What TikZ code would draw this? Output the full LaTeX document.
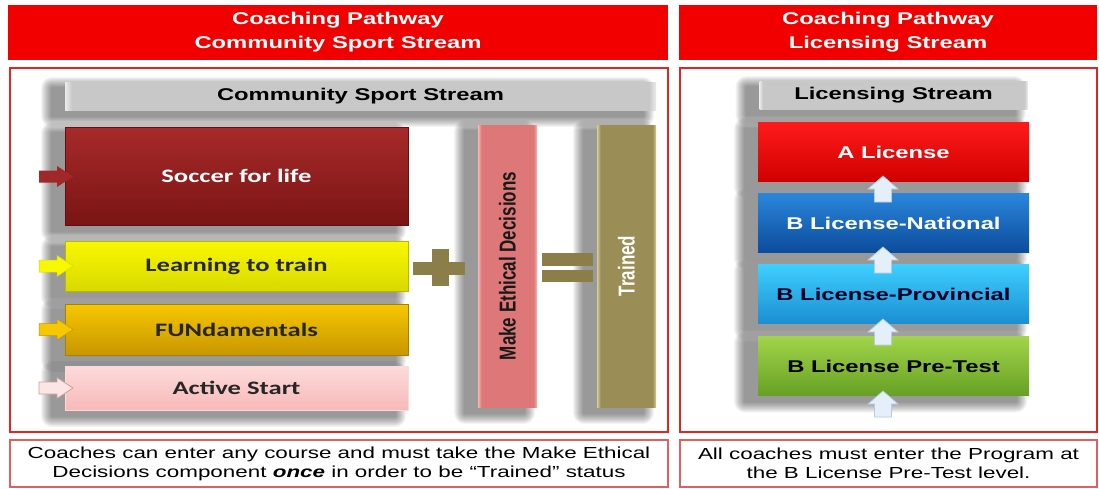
\documentclass[tikz,border=0pt]{standalone}
\usepackage{fontspec}
\setmainfont{Liberation Sans}
\newfontfamily\wide[FakeStretch=1.4]{Liberation Sans}
\newfontfamily\calw[FakeStretch=1.4]{Carlito}
\newfontfamily\narr[FakeStretch=0.74]{Liberation Sans}
\definecolor{hdrred}{HTML}{F20000}
\definecolor{framered}{HTML}{E02525}
\definecolor{notered}{HTML}{E06060}
\definecolor{barGray}{HTML}{C8C8C8}
\definecolor{socTop}{HTML}{A82A2A}
\definecolor{socBot}{HTML}{7A1414}
\definecolor{ltTop}{HTML}{F8F800}
\definecolor{ltBot}{HTML}{D9D900}
\definecolor{fnTop}{HTML}{F6C800}
\definecolor{fnBot}{HTML}{C89600}
\definecolor{asTop}{HTML}{FDDADA}
\definecolor{asBot}{HTML}{F7B9B9}
\definecolor{ethMid}{HTML}{DE7878}
\definecolor{ethEdge}{HTML}{F6B4B4}
\definecolor{trMid}{HTML}{9A8D55}
\definecolor{trEdge}{HTML}{D6CB9A}
\definecolor{olive}{HTML}{8C7E48}
\definecolor{aTop}{HTML}{FF1A1A}
\definecolor{aBot}{HTML}{D00000}
\definecolor{nTop}{HTML}{2A86DC}
\definecolor{nBot}{HTML}{0C4C9C}
\definecolor{pTop}{HTML}{3ED0FF}
\definecolor{pBot}{HTML}{1A8ED2}
\definecolor{gTop}{HTML}{A2D44A}
\definecolor{gBot}{HTML}{66A024}
\definecolor{upFill}{HTML}{E4EFFA}
\definecolor{upLine}{HTML}{B4CBE2}
\pgfdeclarehorizontalshading{ethsh}{100bp}{color(0bp)=(ethEdge); color(25bp)=(ethEdge); color(28bp)=(ethMid); color(72bp)=(ethMid); color(75bp)=(ethEdge); color(100bp)=(ethEdge)}
\pgfdeclarehorizontalshading{trsh}{100bp}{color(0bp)=(trEdge); color(25bp)=(trEdge); color(28bp)=(trMid); color(72bp)=(trMid); color(75bp)=(trEdge); color(100bp)=(trEdge)}
\pgfdeclarehorizontalshading{graysh}{100bp}{color(0bp)=(white!92!black); color(25bp)=(white!92!black); color(25.6bp)=(barGray); color(74.4bp)=(barGray); color(75bp)=(white!92!black); color(100bp)=(white!92!black)}
% soft layered shadow: centre x, centre y, width, height
\newcommand\softshadow[4]{%
  \foreach \e in {1,...,11}{%
    \fill[black, opacity=0.042, rounded corners=\e pt]
      ({#1-13-#3/2-\e},{#2+6-#4/2-\e}) rectangle ({#1-13+#3/2+\e},{#2+6+#4/2+\e});
  }}
\tikzset{
  hdrbox/.style={fill=hdrred, inner sep=0pt, align=center, text=white,
    font=\wide\bfseries\fontsize{17}{24}\selectfont},
  framebox/.style={draw=framered, line width=2pt, fill=white, inner sep=0pt},
  notebox/.style={draw=notered, line width=1.2pt, fill=white, inner sep=0pt, align=center,
    font=\wide\fontsize{16}{19}\selectfont},
  graybar/.style={shading=graysh, inner sep=0pt,
    font=\wide\bfseries\fontsize{17}{20}\selectfont},
  cbox/.style={inner sep=0pt, minimum width=343pt, font=\calw\bfseries\fontsize{19}{22}\selectfont},
  lbox/.style={inner sep=0pt, minimum width=271pt, minimum height=59pt,
    font=\wide\bfseries\fontsize{17}{20}\selectfont},
  vbar/.style={inner sep=0pt, minimum width=59pt, minimum height=282pt},
  rarrow/.pic={\path[pic actions] (0,-6) -- (18,-6) -- (18,-10.5) -- (34,0) -- (18,10.5) -- (18,6) -- (0,6) -- cycle;},
  uarrow/.pic={\path[pic actions] (-8.5,0) -- (-8.5,-13) -- (-15,-13) -- (0,-26) -- (15,-13) -- (8.5,-13) -- (8.5,0) -- cycle;},
  uparrow/.style={fill=upFill, draw=upLine, line width=0.7pt},
}
\begin{document}
\begin{tikzpicture}[x=1pt,y=-1pt]
\useasboundingbox (0,0) rectangle (1099,488);
\fill[white] (0,0) rectangle (1099,488);

% headers
\node[hdrbox, minimum width=660pt, minimum height=55pt] (hdrL) at (338,32.5)
  {Coaching Pathway\\Community Sport Stream};
\node[hdrbox, minimum width=418pt, minimum height=55pt] (hdrR) at (888,32.5)
  {Coaching Pathway\\Licensing Stream};

% frames
\node[framebox, minimum width=658pt, minimum height=364pt] (frameL) at (339,250) {};
\node[framebox, minimum width=417pt, minimum height=364pt] (frameR) at (888.5,250) {};

% notes
\node[notebox, minimum width=658pt, minimum height=47pt] (noteL) at (339,463.5)
  {Coaches can enter any course and must take the Make Ethical\\
   Decisions component \textbf{\textit{once}} in order to be “Trained” status};
\node[notebox, minimum width=417pt, minimum height=47pt] (noteR) at (888.5,463.5)
  {All coaches must enter the Program at\\the B License Pre-Test level.};

% ---- shadows (drawn under the boxes) ----
\softshadow{360.5}{96}{591}{28}
\softshadow{236.5}{176}{343}{98}
\softshadow{236.5}{266}{343}{50}
\softshadow{236.5}{329.5}{343}{51}
\softshadow{236.5}{388}{343}{44}
\softshadow{507.5}{266}{59}{282}
\softshadow{626.5}{266}{59}{282}
\softshadow{893.5}{95}{268}{28}
\softshadow{893.5}{152}{271}{59}
\softshadow{893.5}{223}{271}{59}
\softshadow{893.5}{294}{271}{59}
\softshadow{893.5}{366}{271}{59}

% ---- community stream ----
\node[graybar, minimum width=591pt, minimum height=28pt] (csbar) at (360.5,96) {Community Sport Stream};

\node[cbox, minimum height=98pt, top color=socTop, bottom color=socBot, draw=socBot!80!black, line width=0.5pt, text=white]
  (soccer) at (236.5,176) {Soccer for life};
\node[cbox, minimum height=50pt, top color=ltTop, bottom color=ltBot, draw=ltBot!85!black, line width=0.5pt, text=black!85]
  (learn) at (236.5,266) {Learning to train};
\node[cbox, minimum height=51pt, top color=fnTop, bottom color=fnBot, draw=fnBot!85!black, line width=0.5pt, text=black!85]
  (fun) at (236.5,329.5) {FUNdamentals};
\node[cbox, minimum height=44pt, top color=asTop, bottom color=asBot, draw=asTop, line width=0.5pt, text=black!85]
  (active) at (236.5,388) {Active Start};

\pic[fill=socTop!95!black] at (39,176.5) {rarrow};
\pic[fill=ltTop, draw=ltBot, line width=0.5pt] at (39,266) {rarrow};
\pic[fill=fnTop, draw=fnBot, line width=0.5pt] at (39,329.5) {rarrow};
\pic[fill=asTop!70!white, draw=asBot!85!black, line width=0.8pt] at (39,388) {rarrow};

% plus
\fill[olive] (413,262) rectangle (465,275);
\fill[olive] (432,249) rectangle (449,286);

% ethics bar
\node[vbar, shading=ethsh] (ethic) at (507.5,266) {};
\node[rotate=90, inner sep=0pt, font=\narr\bfseries\fontsize{23}{26}\selectfont, text=black!90] (ethicT) at (ethic.center) {Make Ethical Decisions};

% equals
\fill[olive] (542,253) rectangle (593,266);
\fill[olive] (542,270) rectangle (593,282);

% trained bar
\node[vbar, shading=trsh] (trained) at (626.5,266) {};
\node[rotate=90, inner sep=0pt, font=\narr\bfseries\fontsize{23}{26}\selectfont, text=white] (trainedT) at (trained.center) {Trained};

% ---- licensing stream ----
\node[graybar, minimum width=268pt, minimum height=28pt] (lsbar) at (893.5,95) {Licensing Stream};

\node[lbox, top color=aTop, bottom color=aBot, text=white] (alic) at (893.5,152) {A License};
\node[lbox, top color=nTop, bottom color=nBot, text=white] (bnat) at (893.5,223) {B License-National};
\node[lbox, top color=pTop, bottom color=pBot, text=black!85!blue] (bprov) at (893.5,294) {B License-Provincial};
\node[lbox, top color=gTop, bottom color=gBot, text=black] (bpre) at (893.5,366) {B License Pre-Test};

\pic[uparrow] at (883,202) {uarrow};
\pic[uparrow] at (883,273) {uarrow};
\pic[uparrow] at (883,345) {uarrow};
\pic[uparrow] at (883,417) {uarrow};
\end{tikzpicture}
\end{document}
